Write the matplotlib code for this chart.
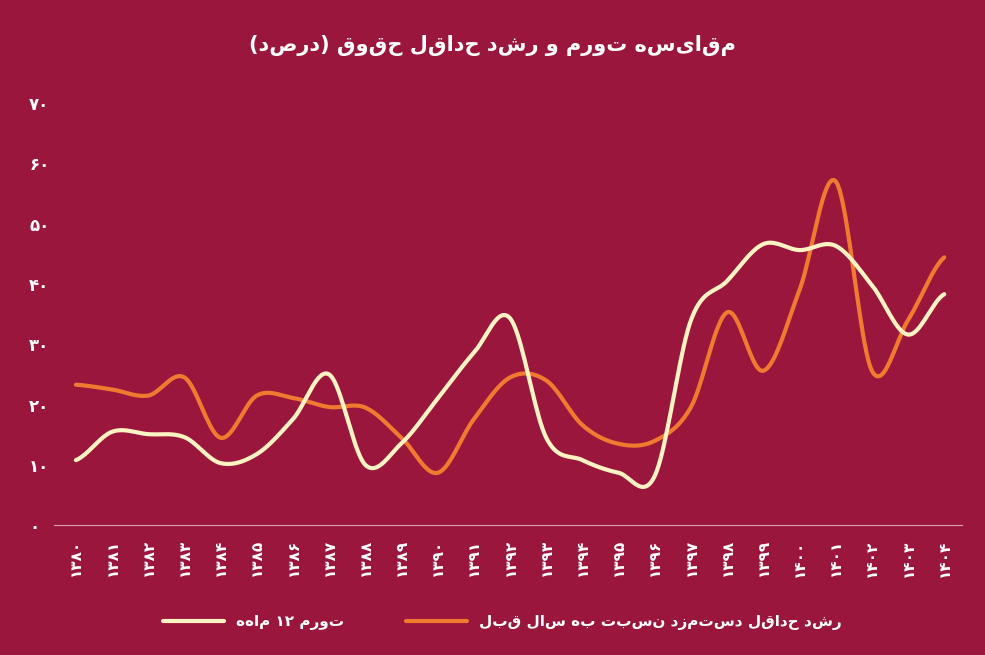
import re
import numpy as np
import matplotlib
matplotlib.use("Agg")
import matplotlib.pyplot as plt

plt.rcParams['font.family'] = ['DejaVu Sans']

years = ['۱۳۸۰','۱۳۸۱','۱۳۸۲','۱۳۸۳','۱۳۸۴','۱۳۸۵','۱۳۸۶','۱۳۸۷','۱۳۸۸','۱۳۸۹',
         '۱۳۹۰','۱۳۹۱','۱۳۹۲','۱۳۹۳','۱۳۹۴','۱۳۹۵','۱۳۹۶','۱۳۹۷','۱۳۹۸','۱۳۹۹',
         '۱۴۰۰','۱۴۰۱','۱۴۰۲','۱۴۰۳','۱۴۰۴']
inflation = [10.8,15.5,15.1,14.6,10.3,11.8,17.6,25,10,13.6,21,28.6,34.3,14.5,10.8,8.7,8.2,34,40.5,46.6,45.6,46.3,39.8,31.6,38.3]
wage = [23.3,22.5,21.5,24.5,14.5,21.5,21.1,19.6,19.5,14.5,8.7,17.6,24.5,24,16.6,13.5,14,19.6,35.3,25.6,39,57,25.6,34,44.4]
yticks = [0,10,20,30,40,50,60,70]
ytick_labels = ['۰','۱۰','۲۰','۳۰','۴۰','۵۰','۶۰','۷۰']
title = 'مقایسه تورم و رشد حداقل حقوق (درصد)'
lab_inf = 'تورم ۱۲ ماهه'
lab_wage = 'رشد حداقل دستمزد نسبت به سال قبل'

def vis(s):
    # visual order for RTL text: reverse, keep digit runs LTR, mirror brackets
    parts = re.findall(r'[۰-۹0-9]+|[^۰-۹0-9]', s)
    mirror = {'(': ')', ')': '('}
    return ''.join(mirror.get(p, p) for p in parts[::-1])

def smooth(y, n=20):
    y = np.asarray(y, float)
    p = np.concatenate([[y[0]], y, [y[-1]]])
    xs, ys = [], []
    for i in range(len(y)-1):
        p0, p1, p2, p3 = p[i], p[i+1], p[i+2], p[i+3]
        t = np.linspace(0, 1, n, endpoint=False)
        v = 0.5*((2*p1)+(-p0+p2)*t+(2*p0-5*p1+4*p2-p3)*t**2+(-p0+3*p1-3*p2+p3)*t**3)
        xs.append(i+t); ys.append(v)
    xs.append([len(y)-1]); ys.append([y[-1]])
    return np.concatenate(xs), np.concatenate(ys)

bg = '#9b163c'
fig = plt.figure(figsize=(9.85,6.55), dpi=100, facecolor=bg)
ax = fig.add_axes([0.055, 0.198, 0.922, 0.645], facecolor=bg)
x = np.arange(len(years))
xi, yi = smooth(inflation)
xw, yw = smooth(wage)
ax.plot(xw, yw, color='#f07a30', lw=3, label=vis(lab_wage), solid_capstyle='round')
ax.plot(xi, yi, color='#fff3c4', lw=3, label=vis(lab_inf), solid_capstyle='round')
ax.set_xlim(-0.6, 24.5)
ax.set_ylim(0, 70)
ax.set_yticks(yticks)
ax.set_yticklabels(ytick_labels, color='white', fontsize=12, fontweight='bold')
ax.set_xticks(x)
ax.set_xticklabels(years, rotation=90, color='white', fontsize=11, fontweight='bold', va='top')
ax.tick_params(length=0)
ax.tick_params(axis='x', pad=10)
ax.tick_params(axis='y', pad=18)
for s in ['top','right','left']:
    ax.spines[s].set_visible(False)
ax.spines['bottom'].set_color('#d8a0b0')
ax.spines['bottom'].set_linewidth(0.8)
for t in ax.get_yticklabels():
    t.set_horizontalalignment('left')
fig.text(0.5, 0.93, vis(title), color='white', fontsize=15, fontweight='bold', ha='center', va='center')
h, l = ax.get_legend_handles_labels()
leg = fig.legend(h[::-1], l[::-1], loc='center', bbox_to_anchor=(0.51, 0.05), ncol=2, frameon=False,
                 fontsize=11, labelcolor='white', handlelength=4, columnspacing=4)
for t in leg.get_texts():
    t.set_fontweight('bold')
fig.savefig('out.png', dpi=100, facecolor=bg)
